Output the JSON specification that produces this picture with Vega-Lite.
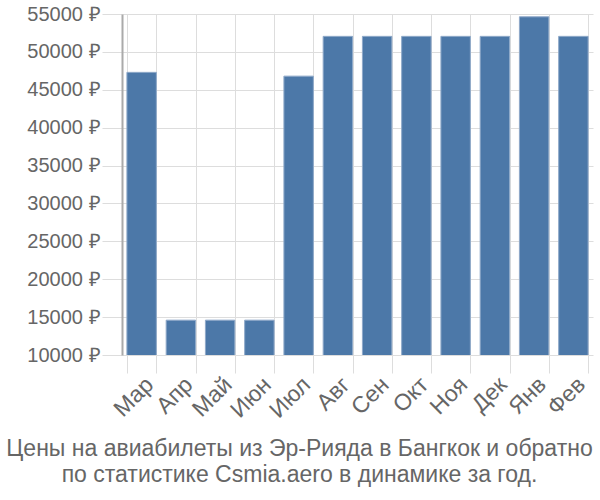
{
  "$schema": "https://vega.github.io/schema/vega-lite/v6.json",
  "width": 471,
  "height": 341,
  "autosize": "none",
  "padding": {"left": 122, "top": 14, "right": 7, "bottom": 145},
  "background": "white",
  "data": {
    "values": [
      {"month": "Мар", "price": 47300},
      {"month": "Апр", "price": 14600},
      {"month": "Май", "price": 14600},
      {"month": "Июн", "price": 14600},
      {"month": "Июл", "price": 46800},
      {"month": "Авг", "price": 52050},
      {"month": "Сен", "price": 52050},
      {"month": "Окт", "price": 52050},
      {"month": "Ноя", "price": 52050},
      {"month": "Дек", "price": 52050},
      {"month": "Янв", "price": 54630},
      {"month": "Фев", "price": 52050}
    ]
  },
  "title": {
    "text": ["Цены на авиабилеты из Эр-Рияда в Бангкок и обратно", "по статистике Csmia.aero в динамике за год."],
    "orient": "bottom",
    "anchor": "middle",
    "font": "Liberation Sans",
    "fontSize": 23,
    "fontWeight": "normal",
    "color": "#666666",
    "lineHeight": 26,
    "offset": 16,
    "dx": -58
  },
  "config": {
    "view": {"stroke": null},
    "font": "Liberation Sans"
  },
  "mark": {"type": "bar", "color": "#4c78a8", "stroke": "#8fa9c9", "strokeWidth": 1, "clip": true},
  "encoding": {
    "x": {
      "field": "month",
      "type": "nominal",
      "sort": null,
      "scale": {"paddingInner": 0.25, "paddingOuter": 0.125},
      "axis": {
        "title": null,
        "labelAngle": -45,
        "labelFontSize": 23,
        "labelColor": "#666666",
        "labelFont": "Liberation Sans",
        "grid": true,
        "gridColor": "#dddddd",
        "bandPosition": 0,
        "tickBand": "extent",
        "ticks": true,
        "tickSize": 18,
        "tickColor": "#dddddd",
        "domain": false,
        "labelPadding": 0
      }
    },
    "y": {
      "field": "price",
      "type": "quantitative",
      "scale": {"domain": [10000, 55000], "zero": false, "nice": false},
      "axis": {
        "title": null,
        "values": [10000, 15000, 20000, 25000, 30000, 35000, 40000, 45000, 50000, 55000],
        "labelExpr": "datum.value + ' ₽'",
        "labelFontSize": 20,
        "labelColor": "#666666",
        "labelFont": "Liberation Sans",
        "grid": true,
        "gridColor": "#dddddd",
        "tickColor": "#dddddd",
        "tickSize": 20,
        "labelPadding": 2,
        "domain": true,
        "domainColor": "#aaaaaa",
        "domainWidth": 2
      }
    }
  }
}
